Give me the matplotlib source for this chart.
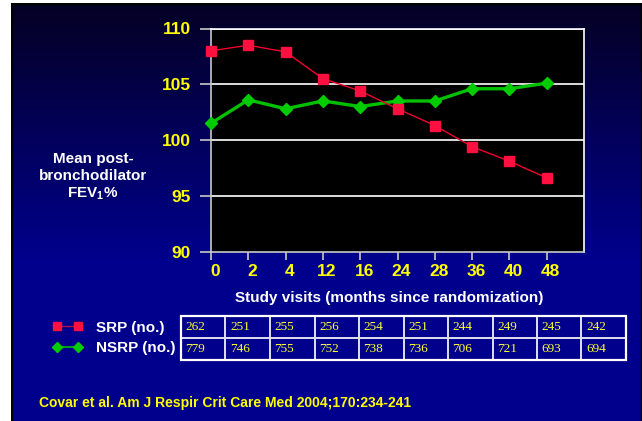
import numpy as np
import matplotlib
matplotlib.use("Agg")
import matplotlib.pyplot as plt
import matplotlib.transforms as mtransforms

plt.rcParams['font.family'] = ['Liberation Sans', 'DejaVu Sans']

# data
visits = ["0", "2", "4", "12", "16", "24", "28", "36", "40", "48"]
srp = [108.0, 108.5, 107.9, 105.5, 104.4, 102.8, 101.3, 99.4, 98.1, 96.6]
nsrp = [101.5, 103.6, 102.8, 103.5, 103.0, 103.5, 103.5, 104.6, 104.6, 105.1]
srp_n = [262, 251, 255, 256, 254, 251, 244, 249, 245, 242]
nsrp_n = [779, 746, 755, 752, 738, 736, 706, 721, 693, 694]
citation = "Covar et al. Am J Respir Crit Care Med 2004;170:234-241"

W, H = 642, 421
fig = plt.figure(figsize=(W / 100, H / 100), dpi=100)
fig.patch.set_facecolor("white")

def fx(px):
    return px / W

def fy(py):
    return 1 - py / H

# slide background (gradient dark navy -> blue)
bg = fig.add_axes([fx(11), -0.02, fx(W - 11), fy(3) + 0.02], zorder=-5)
rows = np.linspace(0, 1, 420)
top = np.array([5, 0, 35]) / 255
mid = np.array([0, 0, 140]) / 255
t = np.clip(rows / 0.6, 0, 1)[:, None]
grad = top * (1 - t) + mid * t
bg.imshow(grad[:, None, :], aspect="auto", extent=[0, 1, 0, 1])
bg.set_axis_off()
# thin dark border of the slide
border = plt.Rectangle((0, 0), 1, 1, transform=bg.transAxes, fill=False,
                       edgecolor="black", linewidth=2.5, zorder=5)
bg.add_patch(border)

# main chart
ax = fig.add_axes([fx(211), fy(251.5), fx(584 - 211), (251.5 - 28.5) / H])
ax.set_facecolor("black")
x = np.arange(len(visits))
l1, = ax.plot(x, srp, color="#f0002a", lw=1.0, marker="s", ms=6.5,
              mfc="#ff1040", mec="#ff1040", label="SRP (no.)", clip_on=False, zorder=4)
l2, = ax.plot(x, nsrp, color="#00c000", lw=2.4, marker="D", ms=6,
              mfc="#00cc00", mec="#00cc00", label="NSRP (no.)", clip_on=False, zorder=3)

ax.set_xlim(0, 10)
ax.set_ylim(90, 110)
ax.set_yticks([90, 95, 100, 105, 110])
ax.set_xticks(x)
ax.set_xticklabels(visits)
for yv in [95, 100, 105, 110]:
    ax.axhline(yv, color="white", lw=1.2, zorder=1)
ax.tick_params(axis="y", length=8, width=1.2, color="#c8c8c8", pad=6.5,
               labelsize=12.5, labelcolor="#ffff00")
ax.tick_params(axis="x", length=6, width=1.2, color="#c8c8c8", pad=3,
               labelsize=12.5, labelcolor="#ffff00")
for lab in ax.get_xticklabels() + ax.get_yticklabels():
    lab.set_fontweight("bold")
off = mtransforms.ScaledTranslation(4 / 100, 0, fig.dpi_scale_trans)
for lab in ax.get_xticklabels():
    lab.set_transform(lab.get_transform() + off)
ax.spines["left"].set_color("#c8c8c8")
ax.spines["bottom"].set_color("#c8c8c8")
ax.spines["right"].set_color("white")
ax.spines["top"].set_color("white")
for s in ax.spines.values():
    s.set_linewidth(1.2)

fig.text(fx(389), fy(298), "Study visits (months since randomization)",
         color="white", fontsize=11, fontweight="bold", ha="center", va="center")
fig.text(fx(93), fy(177), "Mean post-\nbronchodilator\nFEV$_\\mathregular{1}$%",
         color="white", fontsize=11, fontweight="bold", ha="center", va="center",
         linespacing=1.25)

# legend
leg = fig.legend(handles=[l1, l2], loc="center left",
                 bbox_to_anchor=(fx(52), fy(338)), frameon=False,
                 borderpad=0, borderaxespad=0, handlelength=2.0,
                 handletextpad=0.9, labelspacing=0.45, numpoints=2,
                 prop={"weight": "bold", "size": 11})
for txt in leg.get_texts():
    txt.set_color("white")
leg.legend_handles[0].set_color("#b01040")
leg.legend_handles[0].set_markerfacecolor("#ff1040")
leg.legend_handles[0].set_markeredgecolor("#ff1040")
leg.legend_handles[0].set_markersize(5.5)
leg.legend_handles[1].set_linewidth(1.2)
leg.legend_handles[1].set_markersize(5)

# table of numbers
tax = fig.add_axes([fx(181), fy(360), fx(626 - 181), 44 / H])
tax.set_axis_off()
tbl = tax.table(cellText=[[str(v) for v in srp_n], [str(v) for v in nsrp_n]],
                cellLoc="left", bbox=[0, 0, 1, 1])
tbl.auto_set_font_size(False)
for (r, c), cell in tbl.get_celld().items():
    cell.set_facecolor("none")
    cell.set_edgecolor("#e0e0f0")
    cell.set_linewidth(1.2)
    cell.get_text().set_color("#ffff33")
    cell.get_text().set_fontsize(9.5)
    cell.get_text().set_fontfamily("Liberation Serif")
outer = plt.Rectangle((0, 0), 1, 1, transform=tax.transAxes, fill=False,
                      edgecolor="white", linewidth=1.6, clip_on=False)
tax.add_patch(outer)

fig.text(fx(39), fy(403), citation, color="#ffff00", fontsize=10,
         fontweight="bold", ha="left", va="center")

fig.savefig("out.png", dpi=100, facecolor=fig.get_facecolor())
